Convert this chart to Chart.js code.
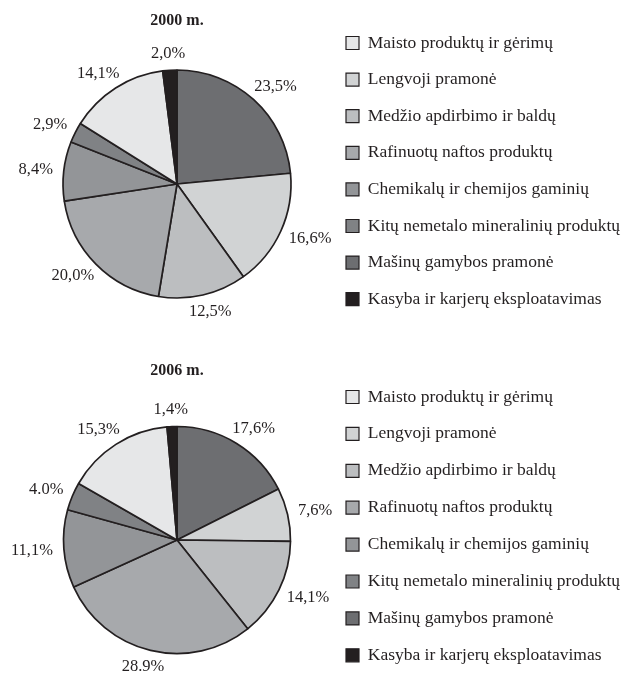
<!DOCTYPE html>
<html>
<head>
<meta charset="utf-8">
<script src="https://cdn.jsdelivr.net/npm/chart.js@4.4.1/dist/chart.umd.min.js"></script>
<style>
    html, body { margin: 0; padding: 0; background: #fff; overflow: hidden; }
    canvas { position: absolute; left: 0; top: 0; }
</style>
</head>
<body>
<canvas id="chart-2000" width="627" height="674"></canvas>
<canvas id="chart-2006" width="627" height="720"></canvas>
<script>
const CATEGORIES = [
    'Maisto produktų ir gėrimų',
    'Lengvoji pramonė',
    'Medžio apdirbimo ir baldų',
    'Rafinuotų naftos produktų',
    'Chemikalų ir chemijos gaminių',
    'Kitų nemetalo mineralinių produktų',
    'Mašinų gamybos pramonė',
    'Kasyba ir karjerų eksploatavimas',
];
const SHARES_2000 = [14.1, 16.6, 12.5, 20.0, 8.4, 2.9, 23.5, 2.0];
const SHARES_2006 = [15.3, 7.6, 14.1, 28.9, 11.1, 4.0, 17.6, 1.4];
const TEXTS_2000 = ['14,1%', '16,6%', '12,5%', '20,0%', '8,4%', '2,9%', '23,5%', '2,0%'];
const TEXTS_2006 = ['15,3%', '7,6%', '14,1%', '28.9%', '11,1%', '4.0%', '17,6%', '1,4%'];
// slices go clockwise from 12 o'clock in this order (indexes into CATEGORIES)
const SLICE_ORDER = [6, 1, 2, 3, 4, 5, 0, 7];

const FILLS = ['#e6e7e8', '#d1d3d4', '#bcbec0', '#a7a9ac', '#939598', '#808285', '#6d6e71', '#231f20'];
const INK = '#231f20';
const SERIF = '"Liberation Serif", "Times New Roman", serif';
const LEGEND_SIZE = 17.5;
const TITLE_SIZE = 16;

// percentage texts outside each slice
const sliceLabels = {
    id: 'sliceLabels',
    afterDatasetsDraw(chart, args, opts) {
        const ctx = chart.ctx;
        const meta = chart.getDatasetMeta(0);
        ctx.save();
        ctx.font = '16.5px ' + SERIF;
        ctx.fillStyle = INK;
        ctx.textAlign = 'center';
        ctx.textBaseline = 'middle';
        meta.data.forEach((arc, i) => {
            const { x, y, startAngle, endAngle, outerRadius } =
                arc.getProps(['x', 'y', 'startAngle', 'endAngle', 'outerRadius'], true);
            const mid = (startAngle + endAngle) / 2;
            const dx = Math.cos(mid);
            const dy = Math.sin(mid);
            const text = opts.texts[i];
            const w = ctx.measureText(text).width;
            const gap = outerRadius + 11;
            ctx.fillText(text, x + dx * (gap + w / 2), y + dy * (gap + 6));
        });
        ctx.restore();
    },
};

function longestLegendText() {
    const ctx = document.createElement('canvas').getContext('2d');
    ctx.font = LEGEND_SIZE + 'px ' + SERIF;
    return Math.max(...CATEGORIES.map(t => ctx.measureText(t).width));
}

function renderPie(canvasId, title, shares, texts, lay) {
    const canvas = document.getElementById(canvasId);
    const H = canvas.height;
    const W = canvas.width;

    // work out paddings so the pie, title and legend land where they should
    const pad = lay.step - LEGEND_SIZE;
    const colHeight = CATEGORIES.length * lay.step;
    const titleLine = TITLE_SIZE * 1.2;
    const padTop = lay.titleY - titleLine / 2;
    const chartBottom = 2 * lay.firstY - LEGEND_SIZE - padTop - pad + colHeight;
    const titleGap = 2 * lay.cy - chartBottom - padTop - titleLine;
    const legendLeft = lay.boxX - pad;
    const legendWidth = pad + 13 + LEGEND_SIZE / 2 + longestLegendText() + 10;

    new Chart(canvas.getContext('2d'), {
        type: 'pie',
        data: {
            labels: SLICE_ORDER.map(i => CATEGORIES[i]),
            datasets: [{
                data: SLICE_ORDER.map(i => shares[i]),
                backgroundColor: SLICE_ORDER.map(i => FILLS[i]),
                borderColor: INK,
                borderWidth: 1.7,
            }],
        },
        options: {
            responsive: false,
            animation: false,
            radius: lay.r,
            layout: {
                padding: {
                    top: padTop,
                    bottom: H - chartBottom,
                    left: 2 * lay.cx - legendLeft,
                    right: W - legendLeft - legendWidth,
                },
            },
            plugins: {
                tooltip: { enabled: false },
                title: {
                    display: true,
                    text: title,
                    fullSize: false,
                    color: INK,
                    font: { family: SERIF, size: TITLE_SIZE, weight: 'bold' },
                    padding: { top: 0, bottom: titleGap },
                },
                legend: {
                    position: 'right',
                    maxWidth: 400,
                    labels: {
                        color: INK,
                        font: { family: SERIF, size: LEGEND_SIZE },
                        boxWidth: 13,
                        boxHeight: 13,
                        padding: pad,
                        sort: (a, b) => SLICE_ORDER[a.index] - SLICE_ORDER[b.index],
                        generateLabels(chart) {
                            return Chart.overrides.doughnut.plugins.legend.labels
                                .generateLabels(chart)
                                .map(item => ({ ...item, lineWidth: 1.2 }));
                        },
                    },
                },
                sliceLabels: { texts: SLICE_ORDER.map(i => texts[i]) },
            },
        },
        plugins: [sliceLabels],
    });
}

renderPie('chart-2000', '2000 m.', SHARES_2000, TEXTS_2000,
    { cx: 177, cy: 184, r: 114, titleY: 21, firstY: 43, step: 36.6, boxX: 346 });
renderPie('chart-2006', '2006 m.', SHARES_2006, TEXTS_2006,
    { cx: 177, cy: 540, r: 113.5, titleY: 371, firstY: 397, step: 36.9, boxX: 346 });
</script>
</body>
</html>
